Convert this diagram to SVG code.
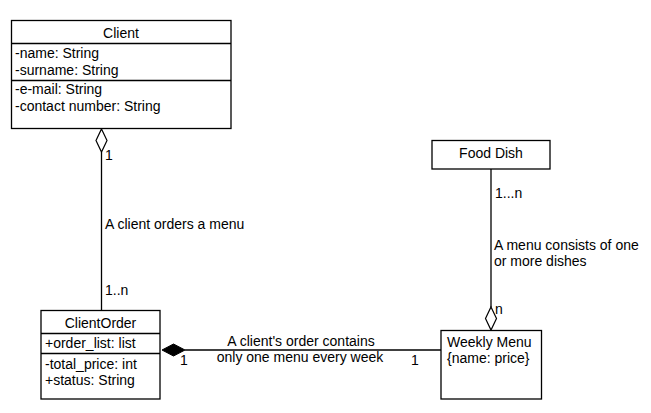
<svg xmlns="http://www.w3.org/2000/svg" width="651" height="413" viewBox="0 0 651 413">
<style>
.box{fill:#fff;stroke:#000;stroke-width:1.3}
.sep{stroke:#000;stroke-width:1.3}
text{font-family:"Liberation Sans",Arial,sans-serif;font-size:14px;fill:#000}
.c{text-anchor:middle}
.ln{stroke:#000;stroke-width:1.3;fill:none}
</style>
<rect width="651" height="413" fill="#fff"/>
<g id="connectors">
<line class="ln" x1="101.5" y1="152" x2="101.5" y2="310"/>
<polygon points="101.5,129 107,140.5 101.5,152 96,140.5" fill="#fff" stroke="#000" stroke-width="1.2"/>
<line class="ln" x1="185" y1="350" x2="441" y2="350"/>
<polygon points="162,350 173.5,344 185,350 173.5,356" fill="#000" stroke="#000" stroke-width="1"/>
<line class="ln" x1="491" y1="169" x2="491" y2="307"/>
<polygon points="491,307 496.5,318.5 491,330 485.5,318.5" fill="#fff" stroke="#000" stroke-width="1.2"/>
<text x="105" y="160">1</text>
<text x="105" y="229">A client orders a menu</text>
<text x="105" y="295">1..n</text>
<text class="c" x="301" y="346">A client's order contains</text>
<text class="c" x="300" y="362">only one menu every week</text>
<text x="180" y="365">1</text>
<text x="411" y="365">1</text>
<text x="495" y="198">1...n</text>
<text x="494" y="250">A menu consists of one</text>
<text x="494" y="266">or more dishes</text>
<text x="495" y="314">n</text>
</g>
<g id="client">
<rect class="box" x="11.5" y="20.5" width="219.5" height="108"/>
<line class="sep" x1="11.5" y1="43.5" x2="231" y2="43.5"/>
<line class="sep" x1="11.5" y1="80.5" x2="231" y2="80.5"/>
<text class="c" x="121" y="38">Client</text>
<text x="15" y="58">-name: String</text>
<text x="15" y="75">-surname: String</text>
<text x="15" y="94">-e-mail: String</text>
<text x="15" y="111">-contact number: String</text>
</g>
<g id="clientorder">
<rect class="box" x="41" y="310.5" width="119" height="88.5"/>
<line class="sep" x1="41" y1="333.5" x2="160" y2="333.5"/>
<line class="sep" x1="41" y1="353.5" x2="160" y2="353.5"/>
<text class="c" x="100.5" y="328">ClientOrder</text>
<text x="45" y="348">+order_list: list</text>
<text x="45" y="369">-total_price: int</text>
<text x="45" y="385">+status: String</text>
</g>
<g id="fooddish">
<rect class="box" x="432" y="140.5" width="118" height="28.5"/>
<text class="c" x="491" y="158">Food Dish</text>
</g>
<g id="weeklymenu">
<rect class="box" x="441" y="330.5" width="100.5" height="68.5"/>
<text x="447" y="347">Weekly Menu</text>
<text x="447" y="363">{name: price}</text>
</g>
</svg>
